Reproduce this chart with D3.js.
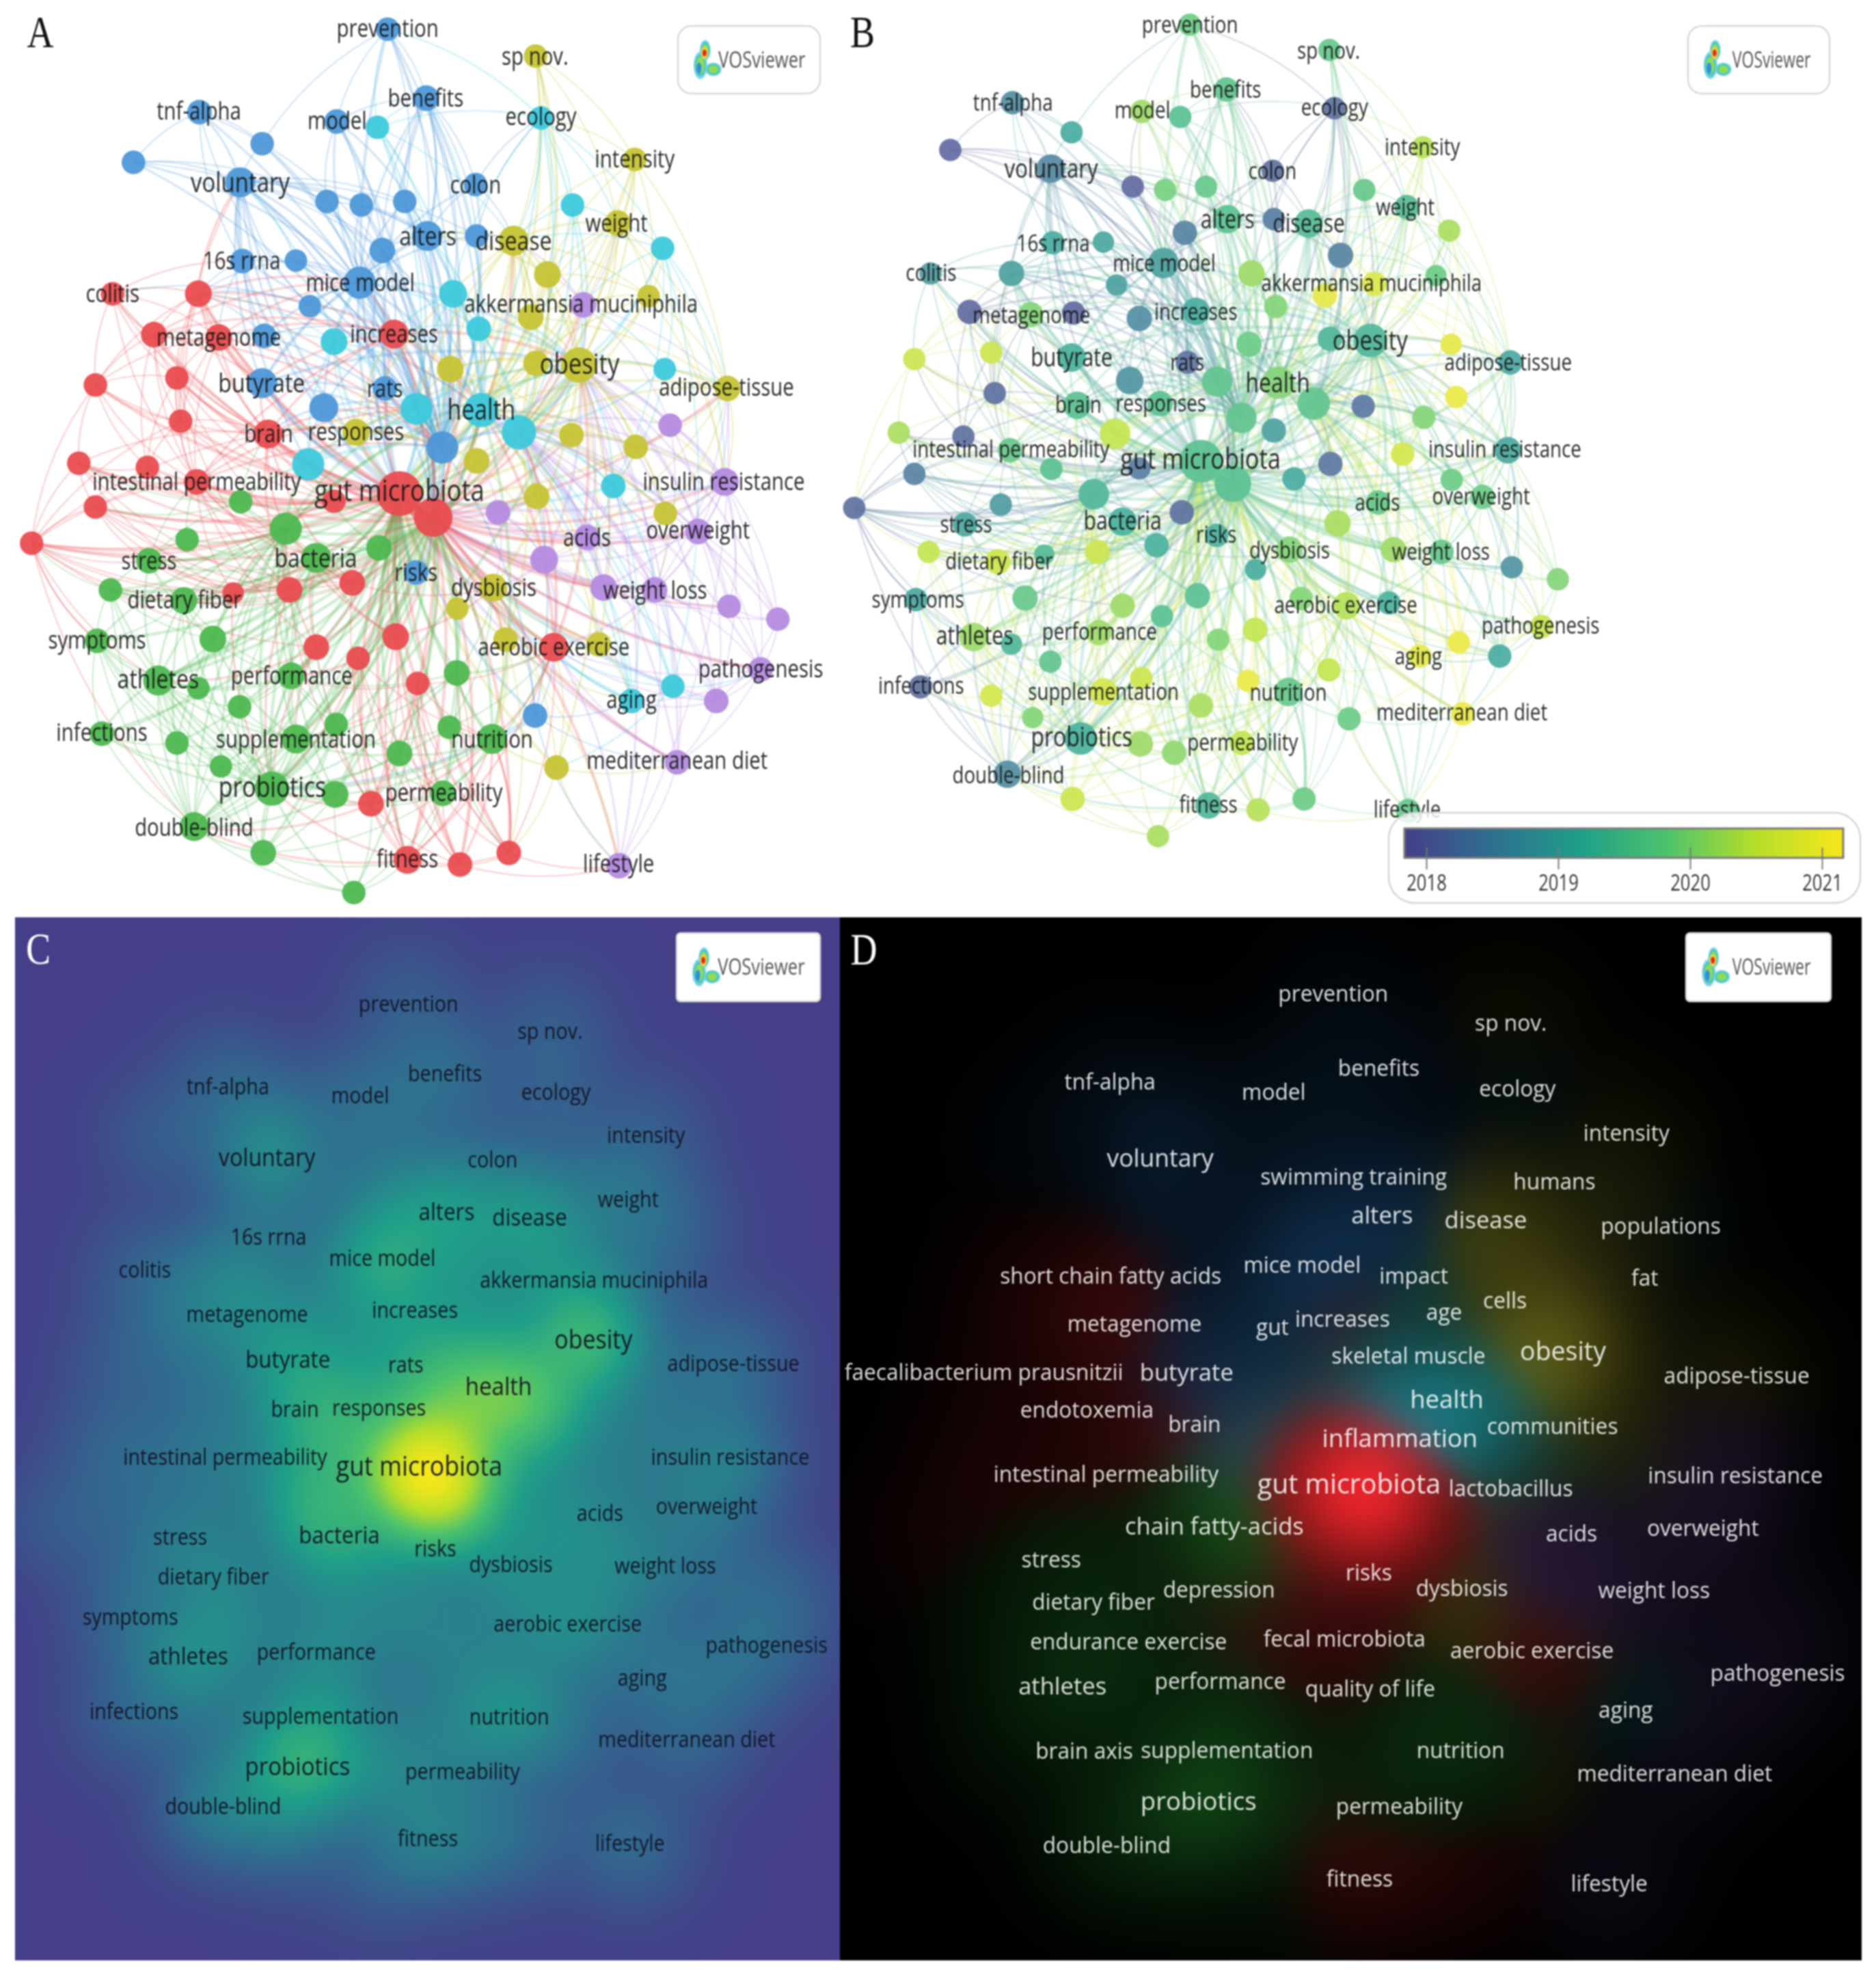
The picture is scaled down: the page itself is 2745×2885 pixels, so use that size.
<!DOCTYPE html>
<html><head><meta charset="utf-8">
<script src="https://cdn.jsdelivr.net/npm/d3@7/dist/d3.min.js"></script>
<style>html,body{margin:0;padding:0;background:#fff}svg{display:block;filter:blur(0.8px)}text{font-family:"Open Sans",sans-serif}</style>
</head><body>
<script>
// ---------- map data: one keyword per index, in map units ----------
const nodeX=[723,795,628,372,489,249,448,610,674,755,887,797,889,713,452,552,671,578,493,489,718,604,825,776,998,
704,1009,1068,1236,845,893,623,1240,777,898,968,575,1144,1178,1255,
999,1184,1152,958,1021,1210,990,1080,1000,840,1357,664,1066,1186,889,1001,1241,920,853,1117,943,1038,
1088,1250,1352,929,1302,1095,1015,1126,1221,1360,1451,1419,1336,1263,1155,
210,370,287,408,735,178,330,337,500,147,275,367,178,745,808,623,59,435,540,657,738,590,668,1033,779,692,760,858,949,
449,533,349,707,278,590,206,343,181,397,295,370,543,852,447,190,330,627,552,838,918,412,745,507,625,826,362,491,660];
const nodeY=[50,168,208,192,246,278,312,345,351,345,316,404,404,429,447,446,484,524,575,656,665,698,766,980,1225,
218,202,351,425,503,563,585,632,700,702,740,795,832,1200,1175,
96,273,382,412,470,507,543,625,622,632,665,740,745,765,789,850,879,1006,1042,1103,1095,1314,
522,728,825,877,910,920,958,1006,1010,1038,1060,1146,1200,1305,1482,
503,503,573,578,572,659,647,721,743,793,800,825,868,845,886,858,930,1015,1010,998,1090,1108,1127,1108,1170,1376,1472,1480,1460,
859,905,924,938,960,955,1010,1028,1097,1094,1165,1178,1157,1152,1210,1256,1272,1240,1265,1245,1265,1312,1290,1350,1360,1358,1415,1460,1528];
const nodeWeight=[22,24,23,23,22,22,28,22,22,22,22,28,22,24,23,21,30,21,23,28,23,27,30,23,23,
22,22,22,22,26,23,25,21,30,32,32,30,23,23,22,
22,22,24,28,25,21,24,33,24,25,24,25,23,23,24,24,22,26,21,23,23,23,
24,22,26,23,24,24,26,25,24,22,22,23,23,23,24,
22,25,24,25,27,22,22,22,27,22,22,24,22,42,36,22,22,20,24,24,25,24,22,27,22,24,26,23,23,
22,30,22,24,24,28,22,25,23,25,28,21,25,24,22,23,22,22,27,22,28,21,24,32,25,24,27,24,22];
const nodeYear=[2019.8,2019.6,2020.2,2018.6,2019.1,2018,2018.5,2018,2019.9,2019.7,2018.1,2019.5,2018.3,2018.4,2019.1,2019,2018.9,2018.9,2018,2019.2,2018.1,2018.7,2019.6,2019.2,2020.5,
2019.5,2018.1,2019.7,2020.3,2020.2,2020,2018.6,2020.9,2019.6,2020,2019.6,2020.5,2020.7,2020.9,2021,
2019.7,2020.4,2019.4,2019.4,2018.4,2019.8,2020.9,2019.3,2019.3,2019.8,2019,2019.5,2018.2,2020,2018.9,2018.2,2019.8,2020,2019.1,2019.2,2020,2019.8,
2020.8,2021,2019,2019.1,2019.8,2019.7,2020.3,2020.2,2019.7,2018.7,2020,2020.5,2019.1,2021,2019.7,
2018.8,2018.9,2018,2020,2019.1,2020.6,2020.6,2018.1,2019.5,2020.3,2018.1,2019.7,2018.4,2019.5,2019.5,2018.3,2018.1,2019.4,2020.6,2019.2,2019.5,2020.2,2019.5,2020.4,2020,2020.1,2019.3,2020.4,2019.8,
2019.5,2019.3,2018.8,2018.1,2019,2019.2,2020.5,2020.6,2019,2019.7,2020.2,2019.3,2020.2,2020.5,2019.6,2018.1,2020.7,2020.6,2020.7,2021,2019.7,2020,2020.3,2019.2,2020.2,2020.5,2018.6,2020.6,2020.3];
const clusterNames=["b","c","y","p","r","g"];
const clusterCounts=[25,15,22,15,29,29];
const nodeCluster=clusterNames.flatMap((c,i)=>Array(clusterCounts[i]).fill(c));
const clusterColors={b:"#4c97d8",c:"#3dc9dc",y:"#c6c434",p:"#b58ae0",r:"#e94b4f",g:"#4cb84f"};
const densityColors={b:[40,120,200],c:[30,185,200],y:[205,200,45],p:[140,90,205],r:[232,36,42],g:[40,165,50]};

// co-occurrence links: [source, targets]
const linkLists=[
[90,[1,0,6,11,13,14,16,19,21,22,23,24,29,30,31,33,34,35,36,37,38,39,43,44,46,47,48,49,51,52,53,54,55,57,58,59,60,61,64,65,66,67,68,69,70,73,74,75,78,80,81,84,85,88,91,92,94,95,96,97,98,99,100,101,102,103,104,105,106,107,109,111,113,115,116,118,119,120,123,124,125,126,128,129,130,131,132,133,110,82,83,86,87,89,93]],
[91,[2,7,8,9,11,13,16,19,20,22,23,29,33,34,35,36,43,47,49,50,51,52,54,55,56,57,59,60,62,64,66,67,68,69,70,71,73,75,76,77,78,79,81,83,85,88,92,94,95,96,97,98,99,100,101,102,103,104,105,107,109,111,112,113,114,116,118,119,121,122,124,125,126,127,128,129,130,131,132,134,93]],
[34,[0,1,11,13,16,22,25,27,29,30,31,33,35,36,37,38,39,40,41,42,43,45,46,47,48,49,50,52,53,55,56,59,64,66,67,69,70,72,78,81,107,116,118,129,124,126,100]],
[47,[22,26,27,28,29,30,32,33,35,37,41,42,43,44,45,46,48,49,50,51,52,53,54,56,57,61,62,63,64,66,67,68,69,70,71,72,74,75,76,100,59,81,16,19,107,129,116]],
[22,[0,1,3,5,6,7,8,9,10,11,12,13,14,15,16,17,18,19,20,21,24,25,26,29,31,33,35,36,43,51,78,79,80,81,85,88,107]],
[35,[26,27,28,29,30,32,37,38,39,41,42,43,44,45,48,49,50,52,53,55,56,59,60,62,63,64,66,67,68,69,70,73,74,75,100,24]],
[33,[4,6,9,15,16,19,21,25,29,31,36,43,49,51,81,85,88,107]],
[107,[85,88,92,94,95,96,97,98,106,108,109,110,111,112,113,114,115,116,117,118,120,122,123,124,127,129,130,132,93,86,89,87]],
[129,[98,99,111,112,113,114,115,116,117,118,119,120,121,122,123,124,125,126,127,128,130,131,132,133,134,102,103,24,94,95]],
[6,[3,4,5,7,8,9,13,14,15,16,17,18,19,20,21,11,12,31,78,84,36]],
[16,[2,4,7,8,9,10,11,12,13,14,15,17,18,19,20,21,29,30,31,81,80,79,1,78]],
[11,[0,1,2,7,8,9,10,12,13,25,29,30,43,44,19]],
[43,[40,26,27,42,44,45,46,48,49,51,10,12,25,41,62,28]],
[50,[28,32,41,42,45,46,48,53,56,62,63,64,66,68,70,76]],
[64,[42,45,48,53,56,63,66,67,68,69,70,71,72,73,74,37]],
[70,[56,63,66,67,68,69,71,72,73,74,75,76,100,59,37]],
[66,[71,72,73,74,67,68,63]],
[57,[24,38,59,60,65,68,96,97,100,119,125,126,61,75]],
[100,[24,38,39,59,60,61,68,73,74,75,76,101,103,105,119,125,126,131]],
[37,[28,32,38,39,67,53]],[38,[39,73,74,69,68,24,59,60]],[39,[73,74,28,61]],[75,[76,73,74,61,24]],[76,[61,105,104,24,60]],
[124,[98,99,101,111,115,116,117,118,120,122,123,127,128,130,132,133,119,125]],
[126,[24,61,99,101,102,103,104,105,119,125,128,130,131,60]],
[116,[110,112,113,114,115,117,118,120,121,122,127,130,132,133,98,93]],
[132,[114,117,118,120,121,122,123,127,130,133,134,102,103,112,113]],
[133,[134,103,130,131,120,127,123]],[134,[103,102,130,131]],
[103,[97,98,99,101,102,104,105,128,131,96]],[104,[97,99,101,102,105,131,128,119]],[105,[97,101,119,125,126,61,131,60]],
[102,[97,99,101,128,131,130,123,95]],[131,[119,125,101,99,123,128]],
[93,[82,86,89,112,110,92,85,84,98,113,114,132,94,95,88]],
[82,[77,79,78,83,84,86,85,87,88,80]],[77,[78,79,80,83,17,14,88,85]],[78,[79,80,81,83,14,15,17,18,19,85,88,31,84]],
[79,[80,83,84,87,85,88,81,19]],[80,[83,19,85,18,84,88,81,14,31]],[81,[13,15,17,18,19,20,21,29,30,31,51,85,88,49]],
[83,[84,87,88,85,92,95,96]],[84,[87,85,88,92]],[86,[87,88,89,92,94,106,85,95]],[89,[88,92,94,106,95,96,110]],
[85,[51,36,21,19,92,88,95,96,106]],[88,[92,94,95,96,106,108,110,111,98]],
[114,[112,113,121,117,122,127,93]],[110,[108,112,113,115,94,95,96,111,106]],[112,[113,115,94,95,96,111]],
[113,[115,94,95,96,111,117,118]],[121,[122,117,127]],[111,[94,95,96,97,98,106,108,109,115,118,120,123]],
[118,[98,99,115,117,120,123,128,97,119,101]],
[5,[3,13,16,7]],[3,[4,14,17,13]],[0,[1,2,25,4,9,26]],[1,[2,25,9,13,29,30,11,12,10]],[2,[25,8,7,13]],
[26,[40,10,41,42,27,25,44,29,12,28]],[40,[42,44,41,46,48]],[41,[42,45,44,46]],[42,[45,44,28,46,48,27,62]],[44,[46,48,62,45]],
[28,[45,32,64,62]],[62,[45,46,48,32,63]],[49,[46,48,51,52,54]],[51,[36,31,21,54]],[36,[31,21,106,107,109]],[53,[56,52,63]],
[68,[67,69,65,55,54]],[69,[67,74,71]],[71,[72,73]],[72,[73,74]],[73,[74]],[65,[54,55,67,68]]];

// ---------- labels per panel ----------
const labelsA=[["prevention",723,48],["sp nov.",998,96],["benefits",794,168],["tnf-alpha",371,190],["model",629,206],["ecology",1009,200],["intensity",1184,272],["voluntary",448,312],["colon",887,316],["weight",1150,382],["alters",798,404],["disease",958,412],["16s rrna",451,447],["mice model",672,484],["colitis",210,503],["akkermansia muciniphila",1084,520],["increases",735,572],["metagenome",408,578],["obesity",1081,623],["butyrate",488,656],["adipose-tissue",1355,663],["rats",718,665],["health",898,702],["brain",501,742],["responses",664,739],["intestinal permeability",367,824],["insulin resistance",1350,824],["gut microbiota",745,840],["overweight",1302,908],["acids",1095,920],["stress",278,960],["bacteria",589,955],["risks",776,980],["dysbiosis",921,1006],["weight loss",1222,1010],["dietary fiber",344,1027],["symptoms",181,1096],["aerobic exercise",1033,1107],["pathogenesis",1419,1145],["performance",544,1157],["athletes",295,1163],["aging",1178,1198],["infections",190,1254],["supplementation",552,1265],["nutrition",918,1266],["mediterranean diet",1263,1302],["probiotics",508,1348],["permeability",828,1357],["double-blind",362,1416],["fitness",760,1470],["lifestyle",1154,1478]];
const labelsB=[["prevention",529,42],["sp nov.",739,86],["benefits",583,153],["tnf-alpha",261,175],["ecology",748,184],["model",457,188],["intensity",881,252],["voluntary",319,289],["colon",654,292],["weight",855,355],["alters",586,375],["disease",709,382],["16s rrna",322,416],["mice model",490,451],["colitis",137,467],["akkermansia muciniphila",804,485],["metagenome",289,540],["increases",538,534],["obesity",802,582],["butyrate",350,612],["adipose-tissue",1011,620],["rats",525,620],["health",662,655],["brain",360,693],["responses",485,690],["intestinal permeability",258,769],["insulin resistance",1006,769],["gut microbiota",545,785],["overweight",970,849],["acids",813,860],["stress",190,898],["bacteria",427,892],["risks",569,915],["dysbiosis",680,942],["weight loss",909,944],["dietary fiber",240,961],["symptoms",117,1026],["aerobic exercise",765,1036],["pathogenesis",1060,1071],["performance",392,1081],["athletes",203,1088],["aging",875,1123],["infections",122,1174],["supplementation",398,1184],["nutrition",678,1185],["mediterranean diet",941,1219],["probiotics",365,1262],["permeability",609,1271],["double-blind",254,1327],["fitness",557,1377],["lifestyle",858,1385]];
const labelsC=[["prevention",762,140],["sp nov.",1026,180],["benefits",830,243],["tnf-alpha",425,262],["model",672,275],["ecology",1037,270],["intensity",1205,333],["voluntary",498,366],["colon",919,370],["weight",1172,428],["alters",833,446],["disease",988,454],["16s rrna",501,484],["mice model",713,515],["colitis",270,532],["akkermansia muciniphila",1108,547],["increases",774,592],["metagenome",461,598],["obesity",1107,635],["butyrate",537,664],["adipose-tissue",1368,670],["rats",757,672],["health",930,704],["brain",550,738],["responses",707,736],["intestinal permeability",420,808],["insulin resistance",1362,808],["gut microbiota",782,822],["overweight",1318,881],["acids",1119,891],["stress",336,926],["bacteria",633,923],["risks",812,944],["dysbiosis",953,967],["weight loss",1241,969],["dietary fiber",398,985],["symptoms",243,1044],["aerobic exercise",1059,1054],["pathogenesis",1430,1086],["performance",590,1096],["athletes",351,1102],["aging",1198,1134],["infections",250,1183],["supplementation",598,1191],["nutrition",950,1192],["mediterranean diet",1281,1225],["probiotics",555,1264],["permeability",863,1272],["double-blind",416,1324],["fitness",798,1371],["lifestyle",1175,1378]];
const labelsD=[["prevention",746,125],["sp nov.",1015,168],["benefits",815,235],["tnf-alpha",408,255],["model",656,270],["ecology",1025,265],["intensity",1190,331],["voluntary",484,367],["swimming training",777,395],["humans",1081,402],["alters",820,452],["disease",977,459],["populations",1242,468],["short chain fatty acids",409,541],["mice model",699,525],["impact",868,541],["fat",1218,544],["cells",1006,578],["age",914,595],["increases",760,605],["gut",654,617],["metagenome",445,612],["obesity",1094,652],["skeletal muscle",860,659],["faecalibacterium prausnitzii",217,683],["butyrate",524,683],["adipose-tissue",1357,688],["health",918,723],["endotoxemia",373,739],["brain",536,760],["communities",1078,763],["inflammation",847,781],["intestinal permeability",402,834],["insulin resistance",1355,836],["gut microbiota",770,848],["lactobacillus",1015,855],["chain fatty-acids",566,910],["overweight",1306,913],["acids",1107,921],["stress",319,960],["risks",800,979],["dysbiosis",941,1002],["depression",573,1004],["weight loss",1232,1005],["dietary fiber",383,1022],["fecal microbiota",763,1077],["endurance exercise",436,1081],["aerobic exercise",1047,1094],["pathogenesis",1419,1127],["performance",575,1139],["athletes",336,1146],["quality of life",802,1150],["aging",1189,1182],["brain axis",369,1242],["supplementation",585,1241],["nutrition",939,1241],["mediterranean diet",1263,1275],["probiotics",542,1316],["permeability",846,1324],["double-blind",403,1381],["fitness",786,1431],["lifestyle",1164,1438]];
const labelEmphasis={"gut microbiota":41,"obesity":39,"health":38,"probiotics":38,"voluntary":37,"butyrate":36,"bacteria":36,"athletes":36,"alters":36,"disease":36,"inflammation":38,"chain fatty-acids":36};
const legendYears=[2018,2019,2020,2021];
const colorStops=["#443f88","#2f6f8f","#1f9e89","#4ec36b","#b5de2b","#f7e71b"];

// ---------- helpers ----------
const W=2745,H=2885,MAP=1568;
const svg=d3.select("body").append("svg").attr("width",W).attr("height",H).attr("viewBox",[0,0,W,H]);
const defs=svg.append("defs");
const colorT=d3.piecewise(d3.interpolateRgb,colorStops);
const yearT=d3.scaleLinear().domain([2017.83,2021.16]).range([0,1]).clamp(true);
const yearColor=y=>d3.interpolateRgb(colorT(yearT(y)),"#ffffff")(0.2);
const radius=d3.scaleLinear().domain([0,42]).range([0,33]);
const scales=(xr,yr)=>({x:d3.scaleLinear().domain([0,MAP]).range(xr),y:d3.scaleLinear().domain([0,MAP]).range(yr)});
const panelA={nodes:scales([0,1230],[0,1340]),labels:scales([0,1230],[0,1340])};
const panelB={nodes:scales([1206.3,2366],[-4,1255.6]),labels:scales([1230,2745],[0,1340])};
const panelC={nodes:scales([54,1231],[1423,2770]),labels:scales([0,1230],[1330,2885])};
const panelD={nodes:scales([1283,2738],[1406,2833]),labels:scales([1230,2745],[1330,2885])};
const nodes=nodeX.map((x,i)=>({i,x,y:nodeY[i],w:nodeWeight[i],c:nodeCluster[i],yr:nodeYear[i]}));
const links=linkLists.flatMap(([s,ts])=>ts.filter(t=>t!==s).map(t=>({s,t})));

function drawNetwork(p,colorOf,rk,lo){
  const g=svg.append("g");
  const X=p.nodes.x,Y=p.nodes.y,cx=X(750),cy=Y(800);
  g.selectAll("path").data(links).join("path")
   .attr("fill","none")
   .attr("stroke",d=>{
      const a=nodes[d.s],b=nodes[d.t];
      const redHub=d.s===91&&b.c!=="g"&&b.c!=="b";
      return colorOf(redHub?a:(a.w<b.w?a:b));})
   .attr("stroke-opacity",lo)
   .attr("stroke-width",d=>{const k=nodes[d.s].w+nodes[d.t].w;return k>58?4.6:k>50?3.4:2.4;})
   .attr("d",d=>{
      const x1=X(nodes[d.s].x),y1=Y(nodes[d.s].y),x2=X(nodes[d.t].x),y2=Y(nodes[d.t].y);
      const mx=(x1+x2)/2,my=(y1+y2)/2,dx=x2-x1,dy=y2-y1;
      let nx=-dy*.14,ny=dx*.14;
      if((mx+nx-cx)*(mx+nx-cx)+(my+ny-cy)*(my+ny-cy)<(mx-nx-cx)*(mx-nx-cx)+(my-ny-cy)*(my-ny-cy)){nx=-nx;ny=-ny;}
      return `M${x1},${y1}Q${mx+nx},${my+ny} ${x2},${y2}`;});
  g.selectAll("circle").data(nodes).join("circle")
   .attr("cx",d=>X(d.x)).attr("cy",d=>Y(d.y)).attr("r",d=>radius(d.w)*rk)
   .attr("fill",colorOf).attr("fill-opacity",.94);
}
function drawLabels(list,p,sx,sy,fill,op,base){
  const X=p.labels.x,Y=p.labels.y;
  svg.append("g").selectAll("text").data(list).join("text")
   .attr("transform",d=>`translate(${X(d[1])},${Y(d[2])}) scale(${sx},${sy})`)
   .attr("text-anchor","middle").attr("dy","0.35em")
   .attr("font-size",d=>labelEmphasis[d[0]]||base)
   .attr("fill",fill).attr("fill-opacity",op).text(d=>d[0]);
}
function densityImage(x0,y0,x1,y1,paint){
  const step=3,w=Math.ceil((x1-x0)/step),h=Math.ceil((y1-y0)/step);
  const cv=document.createElement("canvas");cv.width=w;cv.height=h;
  const ctx=cv.getContext("2d"),img=ctx.createImageData(w,h);
  paint(img.data,w,h,step);
  ctx.putImageData(img,0,0);
  svg.append("image").attr("x",x0).attr("y",y0).attr("width",x1-x0).attr("height",y1-y0)
   .attr("preserveAspectRatio","none").attr("href",cv.toDataURL());
}
function kernelField(p,x0,y0,w,h,step,sigma,subset){
  const f=new Float32Array(w*h),s2=2*sigma*sigma,R=sigma*3.6;
  nodes.filter(subset).forEach(n=>{
    const nx=p.nodes.x(n.x),ny=p.nodes.y(n.y),a=Math.pow(n.w-15,2.6);
    const ix0=Math.max(0,Math.floor((nx-R-x0)/step)),ix1=Math.min(w-1,Math.ceil((nx+R-x0)/step));
    const iy0=Math.max(0,Math.floor((ny-R-y0)/step)),iy1=Math.min(h-1,Math.ceil((ny+R-y0)/step));
    for(let j=iy0;j<=iy1;j++)for(let i=ix0;i<=ix1;i++){
      const dx=x0+i*step-nx,dy=y0+j*step-ny;
      f[j*w+i]+=a*Math.exp(-(dx*dx+dy*dy)/s2);
    }});
  return f;
}
function logo(x,y,w,h,rx,sx){
  const g=svg.append("g").attr("transform",`translate(${x},${y})`);
  g.append("rect").attr("width",w).attr("height",h).attr("rx",rx).attr("fill","#fff").attr("stroke","#d8d8d8").attr("stroke-width",2.5);
  const ic=g.append("g").attr("transform",`translate(${w*0.105},${h/2-28})`);
  [["#7fd3e8",1],["#46c6c0",.8],["#8edc5a",.6]].forEach(([c,k])=>{
    ic.append("ellipse").attr("cx",11).attr("cy",36).attr("rx",10*k).attr("ry",20*k).attr("fill",c);
    ic.append("ellipse").attr("cx",18).attr("cy",14).attr("rx",8*k).attr("ry",15*k).attr("fill",c);
    ic.append("ellipse").attr("cx",30).attr("cy",42).attr("rx",12*k).attr("ry",10*k).attr("fill",c);
  });
  ic.append("ellipse").attr("cx",17).attr("cy",18).attr("rx",5).attr("ry",9).attr("fill","#f2d23a");
  ic.append("ellipse").attr("cx",17).attr("cy",18).attr("rx",3).attr("ry",5).attr("fill","#e02a20");
  ic.append("ellipse").attr("cx",9).attr("cy",40).attr("rx",3.5).attr("ry",8).attr("fill","#2f8fe0");
  g.append("text").attr("transform",`translate(${w*0.59},${h/2+11}) scale(${sx},1)`).attr("text-anchor","middle")
   .attr("font-size",32).attr("fill","#555").text("VOSviewer");
}
function letter(t,x,y,fill){
  svg.append("text").attr("transform",`translate(${x},${y}) scale(.82,1)`).attr("text-anchor","middle").attr("dominant-baseline","central")
   .style("font-family","'Liberation Serif',serif").attr("font-size",66).attr("fill",fill).text(t);
}

// ---------- background ----------
svg.append("rect").attr("width",W).attr("height",H).attr("fill","#fff");

// ---------- A ----------
drawNetwork(panelA,d=>clusterColors[d.c],1,.24);
drawLabels(labelsA,panelA,.89,1.08,"#141414",.9,33);
logo(992,38,208,99,20,.8);
letter("A",59,47,"#111");

// ---------- B ----------
drawNetwork(panelB,d=>yearColor(d.yr),.95,.24);
drawLabels(labelsB,panelB,.84,1.04,"#141414",.9,33);
logo(2470,38,207,99,20,.72);
letter("B",1262,47,"#111");

// legend
const yearScale=d3.scaleLinear().domain([2018,2021]).range([2087,2666]);
svg.append("rect").attr("x",2032).attr("y",1189).attr("width",690).attr("height",132).attr("rx",38)
  .attr("fill","#fff").attr("fill-opacity",.82).attr("stroke","#d5d5d5").attr("stroke-width",2.5);
const lg=defs.append("linearGradient").attr("id","yearGrad");
d3.range(0,1.001,.05).forEach(t=>lg.append("stop").attr("offset",t).attr("stop-color",colorT(t)));
svg.append("rect").attr("x",2055).attr("y",1212).attr("width",642).attr("height",43)
  .attr("fill","url(#yearGrad)").attr("stroke","#7a7a7a").attr("stroke-width",3);
const ax=svg.append("g").attr("transform","translate(0,1240)")
  .call(d3.axisBottom(yearScale).tickValues(legendYears).tickFormat(d3.format("d")).tickSize(32).tickPadding(8));
ax.select(".domain").remove();
ax.selectAll("line").attr("stroke","#777").attr("stroke-width",2);
ax.selectAll("text").attr("font-size",32).attr("fill","#333").attr("transform","scale(.8,1)")
  .style("font-family","'Open Sans',sans-serif");

// ---------- C density ----------
const cRect=[22,1342,1229,2868];
densityImage(...cRect,(px,w,h,step)=>{
  const f=kernelField(panelC,cRect[0],cRect[1],w,h,step,54,()=>true);
  const vmax=d3.max(f);
  for(let k=0;k<w*h;k++){
    const c=d3.rgb(colorT(Math.pow(f[k]/vmax,.55)));
    px[4*k]=c.r;px[4*k+1]=c.g;px[4*k+2]=c.b;px[4*k+3]=255;
  }});
drawLabels(labelsC,panelC,.87,.98,"#10101f",.92,33);
logo(990,1365,210,100,6,.8);
letter("C",56,1388,"#fff");

// ---------- D cluster density ----------
const dRect=[1229,1342,2724,2868];
densityImage(...dRect,(px,w,h,step)=>{
  const fields=clusterNames.map(c=>kernelField(panelD,dRect[0],dRect[1],w,h,step,74,n=>n.c===c));
  const total=new Float32Array(w*h);
  fields.forEach(f=>f.forEach((v,k)=>{total[k]+=v;}));
  const vmax=d3.max(total);
  for(let k=0;k<w*h;k++){
    let r=0,g=0,b=0,norm=1e-9;
    clusterNames.forEach((c,ci)=>{const v=fields[ci][k];norm+=v*v;});
    const bright=Math.pow(total[k]/vmax,.78);
    clusterNames.forEach((c,ci)=>{
      const v=fields[ci][k],s=v*v/norm,col=densityColors[c];
      r+=col[0]*s;g+=col[1]*s;b+=col[2]*s;});
    px[4*k]=r*bright;px[4*k+1]=g*bright;px[4*k+2]=b*bright;px[4*k+3]=255;
  }});
drawLabels(labelsD,panelD,.96,.97,"#ffffff",.86,33);
logo(2467,1365,212,100,6,.72);
letter("D",1264,1389,"#fff");
</script>
</body></html>
